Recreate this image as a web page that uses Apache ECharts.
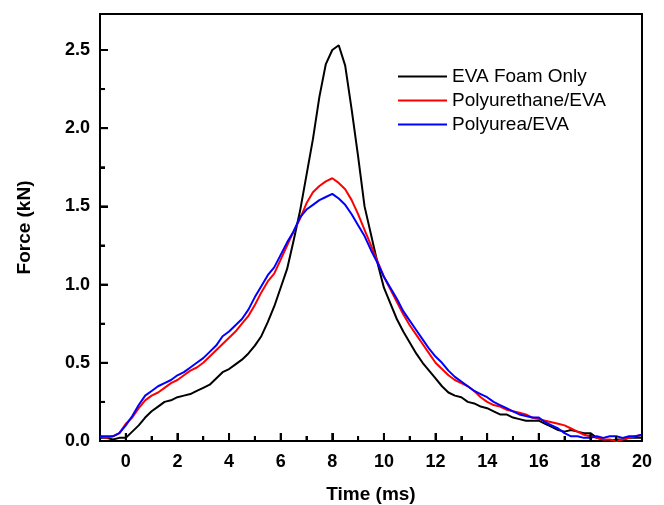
<!DOCTYPE html>
<html>
<head>
<meta charset="utf-8">
<script src="https://cdn.jsdelivr.net/npm/echarts@6/dist/echarts.min.js"></script>
<style>
  html, body { margin: 0; padding: 0; background: #fff; }
  #chart { width: 664px; height: 505px; }
</style>
</head>
<body>
<div id="chart"></div>
<script>
// time samples (ms)
const times = [
  -1.00, -0.75, -0.50, -0.25, 0.00, 0.25, 0.50, 0.75, 1.00, 1.25, 1.50, 1.75,
  2.00, 2.25, 2.50, 2.75, 3.00, 3.25, 3.50, 3.75, 4.00, 4.25, 4.50, 4.75,
  5.00, 5.25, 5.50, 5.75, 6.00, 6.25, 6.50, 6.75, 7.00, 7.25, 7.50, 7.75,
  8.00, 8.25, 8.50, 8.75, 9.00, 9.25, 9.50, 9.75, 10.00, 10.25, 10.50, 10.75,
  11.00, 11.25, 11.50, 11.75, 12.00, 12.25, 12.50, 12.75, 13.00, 13.25, 13.50, 13.75,
  14.00, 14.25, 14.50, 14.75, 15.00, 15.25, 15.50, 15.75, 16.00, 16.25, 16.50, 16.75,
  17.00, 17.25, 17.50, 17.75, 18.00, 18.25, 18.50, 18.75, 19.00, 19.25, 19.50, 19.75, 20.00
]

// force (kN)
const evaFoam = [
  0.02, 0.02, 0.01, 0.02, 0.02, 0.06, 0.10, 0.15, 0.19, 0.22, 0.25, 0.26,
  0.28, 0.29, 0.30, 0.32, 0.34, 0.36, 0.40, 0.44, 0.46, 0.49, 0.52, 0.56,
  0.61, 0.67, 0.76, 0.86, 0.98, 1.10, 1.28, 1.47, 1.70, 1.93, 2.20, 2.41,
  2.50, 2.53, 2.40, 2.12, 1.82, 1.50, 1.32, 1.14, 0.98, 0.88, 0.78, 0.70,
  0.63, 0.56, 0.50, 0.45, 0.40, 0.35, 0.31, 0.29, 0.28, 0.25, 0.24, 0.22,
  0.21, 0.19, 0.17, 0.17, 0.15, 0.14, 0.13, 0.13, 0.13, 0.11, 0.09, 0.07,
  0.06, 0.07, 0.06, 0.05, 0.05, 0.02, 0.01, 0.00, 0.01, 0.01, 0.02, 0.02, 0.02
]
const polyurethane = [
  0.03, 0.02, 0.03, 0.05, 0.11, 0.15, 0.21, 0.26, 0.29, 0.31, 0.34, 0.37,
  0.39, 0.42, 0.45, 0.47, 0.50, 0.54, 0.58, 0.62, 0.66, 0.70, 0.75, 0.80,
  0.87, 0.95, 1.02, 1.07, 1.16, 1.25, 1.34, 1.42, 1.52, 1.59, 1.63, 1.66,
  1.68, 1.65, 1.61, 1.54, 1.45, 1.35, 1.25, 1.15, 1.05, 0.97, 0.89, 0.81,
  0.74, 0.68, 0.62, 0.56, 0.50, 0.46, 0.42, 0.39, 0.37, 0.35, 0.32, 0.28,
  0.25, 0.23, 0.22, 0.20, 0.19, 0.18, 0.17, 0.15, 0.14, 0.13, 0.12, 0.11,
  0.10, 0.08, 0.06, 0.04, 0.03, 0.02, 0.01, 0.01, 0.00, 0.01, 0.02, 0.03, 0.04
]
const polyurea = [
  0.03, 0.03, 0.03, 0.05, 0.10, 0.16, 0.23, 0.29, 0.32, 0.35, 0.37, 0.39,
  0.42, 0.44, 0.47, 0.50, 0.53, 0.57, 0.61, 0.67, 0.70, 0.74, 0.78, 0.84,
  0.92, 0.99, 1.06, 1.11, 1.19, 1.27, 1.34, 1.43, 1.48, 1.51, 1.54, 1.56,
  1.58, 1.55, 1.51, 1.45, 1.38, 1.31, 1.22, 1.14, 1.05, 0.98, 0.91, 0.83,
  0.77, 0.71, 0.65, 0.59, 0.54, 0.50, 0.45, 0.41, 0.38, 0.35, 0.32, 0.30,
  0.28, 0.25, 0.23, 0.21, 0.19, 0.17, 0.16, 0.15, 0.15, 0.12, 0.10, 0.08,
  0.05, 0.03, 0.03, 0.02, 0.02, 0.03, 0.02, 0.03, 0.03, 0.02, 0.03, 0.03, 0.04
]

const xMajor = [0, 2, 4, 6, 8, 10, 12, 14, 16, 18, 20]
const xMinor = [1, 3, 5, 7, 9, 11, 13, 15, 17, 19]
const yMajor = [0, 0.5, 1.0, 1.5, 2.0, 2.5]
const yMinor = [0.25, 0.75, 1.25, 1.75, 2.25]

const seriesNames = ['EVA Foam Only', 'Polyurethane/EVA', 'Polyurea/EVA']
const seriesColors = ['#000000', '#ff0000', '#0000ff']
const seriesValues = [evaFoam, polyurethane, polyurea]

const X_MIN = -1
const X_MAX = 20
const Y_MIN = 0
const Y_MAX = 2.73

const FONT = 'Liberation Sans, Arial, sans-serif'

function pairs(values) {
  return times.map((t, i) => [t, values[i]])
}

// label-less axis used only to draw a set of inward ticks
function tickAxis(extra, values, len) {
  return Object.assign({
    type: 'value',
    axisLine: { show: false, onZero: false },
    axisTick: { show: true, inside: true, length: len, lineStyle: { color: '#000', width: 2 }, customValues: values },
    axisLabel: { show: false },
    splitLine: { show: false }
  }, extra)
}

// inward tick marks placed through the axes' own scales
function tickSeries(data, len, vertical) {
  return {
    type: 'custom',
    silent: true,
    clip: false,
    z: 10,
    data: data,
    renderItem: (params, api) => {
      const p = api.coord([api.value(0), api.value(1)])
      const shape = vertical
        ? { x1: p[0], y1: p[1], x2: p[0], y2: p[1] - len }
        : { x1: p[0], y1: p[1], x2: p[0] + len, y2: p[1] }
      return { type: 'line', shape: shape, style: { stroke: '#000', lineWidth: 2 } }
    }
  }
}

const chart = echarts.init(document.getElementById('chart'))

chart.setOption({
  animation: false,
  backgroundColor: '#fff',
  grid: {
    left: 100,
    right: 22,
    top: 14,
    bottom: 64,
    outerBoundsMode: 'none',
    show: true,
    borderColor: '#000',
    borderWidth: 2
  },
  legend: {
    orient: 'vertical',
    left: 393,
    top: 62,
    icon: 'path://M0,0H50V2H0Z',
    itemWidth: 49,
    itemHeight: 2,
    itemGap: 5,
    textStyle: { fontFamily: FONT, fontSize: 19, color: '#000', lineHeight: 19 },
    data: seriesNames
  },
  xAxis: [
    {
      type: 'value',
      min: X_MIN,
      max: X_MAX,
      name: 'Time (ms)',
      nameLocation: 'middle',
      nameGap: 44,
      nameTextStyle: { fontFamily: FONT, fontSize: 19, fontWeight: 'bold', color: '#000' },
      axisLine: { show: true, onZero: false, lineStyle: { color: '#000', width: 2 } },
      axisTick: { show: false },
      axisLabel: {
        customValues: xMajor,
        margin: 12,
        fontFamily: FONT,
        fontSize: 18,
        fontWeight: 'bold',
        color: '#000'
      },
      splitLine: { show: false }
    },
    tickAxis({ min: X_MIN, max: X_MAX, position: 'bottom' }, xMajor, 8),
    tickAxis({ min: X_MIN, max: X_MAX, position: 'bottom' }, xMinor, 5)
  ],
  yAxis: [
    {
      type: 'value',
      min: Y_MIN,
      max: Y_MAX,
      name: 'Force (kN)',
      nameLocation: 'middle',
      nameGap: 66,
      nameTextStyle: { fontFamily: FONT, fontSize: 19, fontWeight: 'bold', color: '#000' },
      axisLine: { show: true, onZero: false, lineStyle: { color: '#000', width: 2 } },
      axisTick: { show: false },
      axisLabel: {
        customValues: yMajor,
        margin: 10,
        fontFamily: FONT,
        fontSize: 18,
        fontWeight: 'bold',
        color: '#000',
        formatter: (v) => v.toFixed(1)
      },
      splitLine: { show: false }
    },
    tickAxis({ min: Y_MIN, max: Y_MAX, position: 'left' }, yMajor, 8),
    tickAxis({ min: Y_MIN, max: Y_MAX, position: 'left' }, yMinor, 5)
  ],
  series: seriesNames.map((name, i) => ({
    name: name,
    type: 'line',
    data: pairs(seriesValues[i]),
    symbol: 'none',
    color: seriesColors[i],
    lineStyle: { color: seriesColors[i], width: 2 },
    z: 3 + i
  })).concat([
    tickSeries(xMajor.map((v) => [v, Y_MIN]), 8, true),
    tickSeries(xMinor.map((v) => [v, Y_MIN]), 5, true),
    tickSeries(yMajor.map((v) => [X_MIN, v]), 8, false),
    tickSeries(yMinor.map((v) => [X_MIN, v]), 5, false)
  ])
})
</script>
</body>
</html>
